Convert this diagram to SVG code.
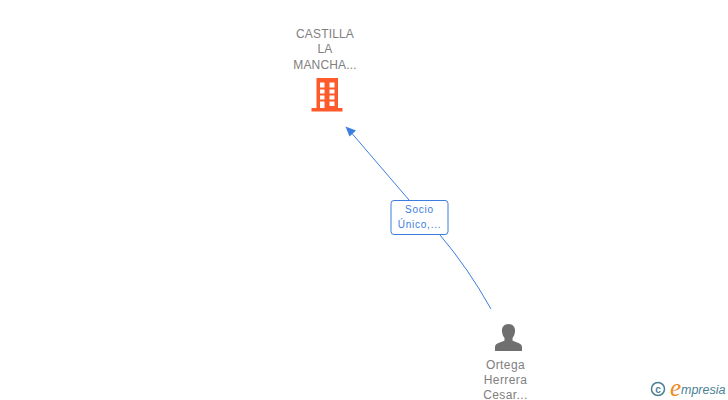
<svg xmlns="http://www.w3.org/2000/svg" width="728" height="400" viewBox="0 0 728 400">
<style>
.t{font-family:"Liberation Sans",Arial,sans-serif;font-size:12px;fill:#808080;text-anchor:middle;letter-spacing:.15px}
.l{font-family:"Liberation Sans",Arial,sans-serif;font-size:10px;fill:#3b7de0;text-anchor:middle;letter-spacing:.75px}
.c{fill:none;stroke:#3b7de0;stroke-width:1}
</style>
<rect width="728" height="400" fill="#fff"/>
<g id="connectors">
<path class="c" d="M409 200L349 130"/>
<path class="c" d="M440 235Q468 268 491 309"/>
<path d="M345.500 126.500L356 130.500L349.500 136.500Z" fill="#3b7de0"/>
</g>
<g id="node-company">
<text class="t" x="325" y="37.500">CASTILLA</text>
<text class="t" x="325" y="53">LA</text>
<text class="t" x="325" y="68.500">MANCHA...</text>
<path fill="#ff5a2c" fill-rule="evenodd" d="M316.500 78H338V108H342.500V111.500H311.500V108H316.500ZM320 82.500V87.500H324.500V82.500ZM329.500 82.500V87.500H334.500V82.500ZM320 89.500V93.500H324.500V89.500ZM329.500 89.500V93.500H334.500V89.500ZM320 95.500V99.500H324.500V95.500ZM329.500 95.500V99.500H334.500V95.500ZM320 101.500V108H324.500V101.500ZM329.500 101.500V106H334.500V101.500Z"/>
</g>
<g id="edge-label">
<rect x="391" y="200.500" width="57" height="34" rx="3" fill="#fff" stroke="#3b7de0" stroke-width="1"/>
<text class="l" x="419.500" y="213">Socio</text>
<text class="l" x="419.500" y="228">Único,...</text>
</g>
<g id="node-person">
<path fill="#6f6f6f" d="M508.500 324C513 324 515.500 327.500 515 331.500C514.800 334 514 336 512.500 338V340.500C516 342.500 522 343 522 347V351H495V347C495 343 501 342.500 504.500 340.500V338C503 336 502.200 334 502 331.500C501.500 327.500 504 324 508.500 324Z"/>
<text class="t" x="505.500" y="369" style="letter-spacing:.4px">Ortega</text>
<text class="t" x="505.500" y="384" style="letter-spacing:.4px">Herrera</text>
<text class="t" x="505.500" y="398.500" style="letter-spacing:.4px">Cesar...</text>
</g>
<g id="watermark">
<circle cx="658" cy="389" r="6.500" fill="none" stroke="#4a7f96" stroke-width="1.500"/>
<text x="658" y="392.500" font-family="Liberation Sans,sans-serif" font-size="10" font-weight="bold" fill="#4a7f96" text-anchor="middle">c</text>
<text x="670" y="396" font-family="Liberation Serif,serif" font-size="25" font-style="italic" fill="#f08a1d">e</text>
<text x="681" y="393.500" font-family="Liberation Sans,sans-serif" font-size="12.500" font-style="italic" fill="#4a7f96">mpresia</text>
</g>
</svg>
